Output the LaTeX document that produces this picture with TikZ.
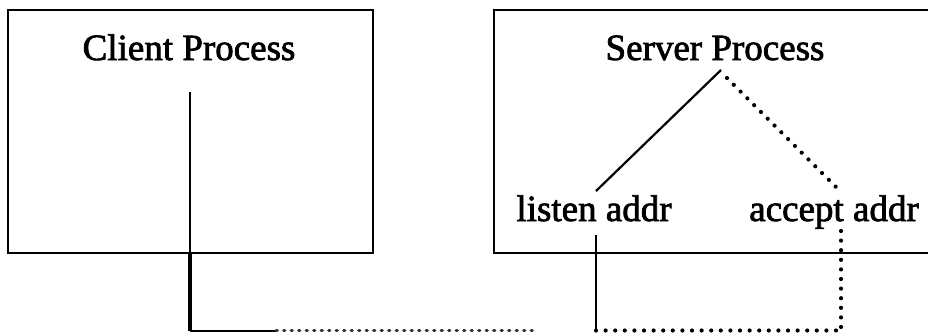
\documentclass[tikz,border=0pt]{standalone}
\usepackage{fontspec}
\setmainfont{Liberation Serif}
\newfontfamily\scanfont{Liberation Serif}[FakeBold=2]
\begin{document}
\begin{tikzpicture}[x=1pt,y=-1pt,
  procbox/.style={draw, line width=2.4pt, inner sep=0pt, outer sep=0pt, anchor=north west},
  lbl/.style={font=\fontsize{37}{40}\selectfont\scanfont, anchor=base, inner sep=0pt},
  solidline/.style={line width=2.2pt},
  dotline/.style={line width=4.2pt, line cap=round, dash pattern=on 0pt off 9.6pt},
  faintdots/.style={line width=2.6pt, line cap=round, dash pattern=on 1.5pt off 6pt, black!80}]
\useasboundingbox (0,0) rectangle (928,332);
% boxes
\node[procbox, minimum width=365pt, minimum height=243pt] (client) at (8,10) {};
\node[procbox, minimum width=440pt, minimum height=243pt] (server) at (494,10) {};
% labels
\node[lbl] (ctitle) at (189,60) {Client Process};
\node[lbl] (stitle) at (715,60) {Server Process};
\node[lbl] (listen) at (594,221) {listen addr};
\node[lbl] (accept) at (834,221) {accept addr};
% coordinates
\coordinate (ctop) at (190,92);
\coordinate (cbot) at (190,330.5);
\coordinate (csolidend) at (276,330.5);
\coordinate (cdotend) at (537,330.5);
\coordinate (stA) at (721,70);
\coordinate (stB) at (727,78);
\coordinate (lsTop) at (596,191);
\coordinate (acTop) at (841,192);
\coordinate (lsBot0) at (596,235);
\coordinate (lsBot) at (596,330.5);
\coordinate (acBot0) at (841,231);
\coordinate (acBot) at (841,330.5);
% connectors
\draw[solidline] (ctop) -- (190,253);
\draw[line width=3.2pt] (190,253) -- (cbot);
\draw[line width=2pt] (cbot) -- (csolidend);
\draw[faintdots] (csolidend) -- (cdotend);
\draw[solidline] (stA) -- (lsTop);
\draw[dotline] (stB) -- (acTop);
\draw[solidline] (lsBot0) -- (lsBot);
\draw[dotline] (acBot0) -- (acBot);
\draw[dotline] (lsBot) -- (acBot);
\end{tikzpicture}
\end{document}
